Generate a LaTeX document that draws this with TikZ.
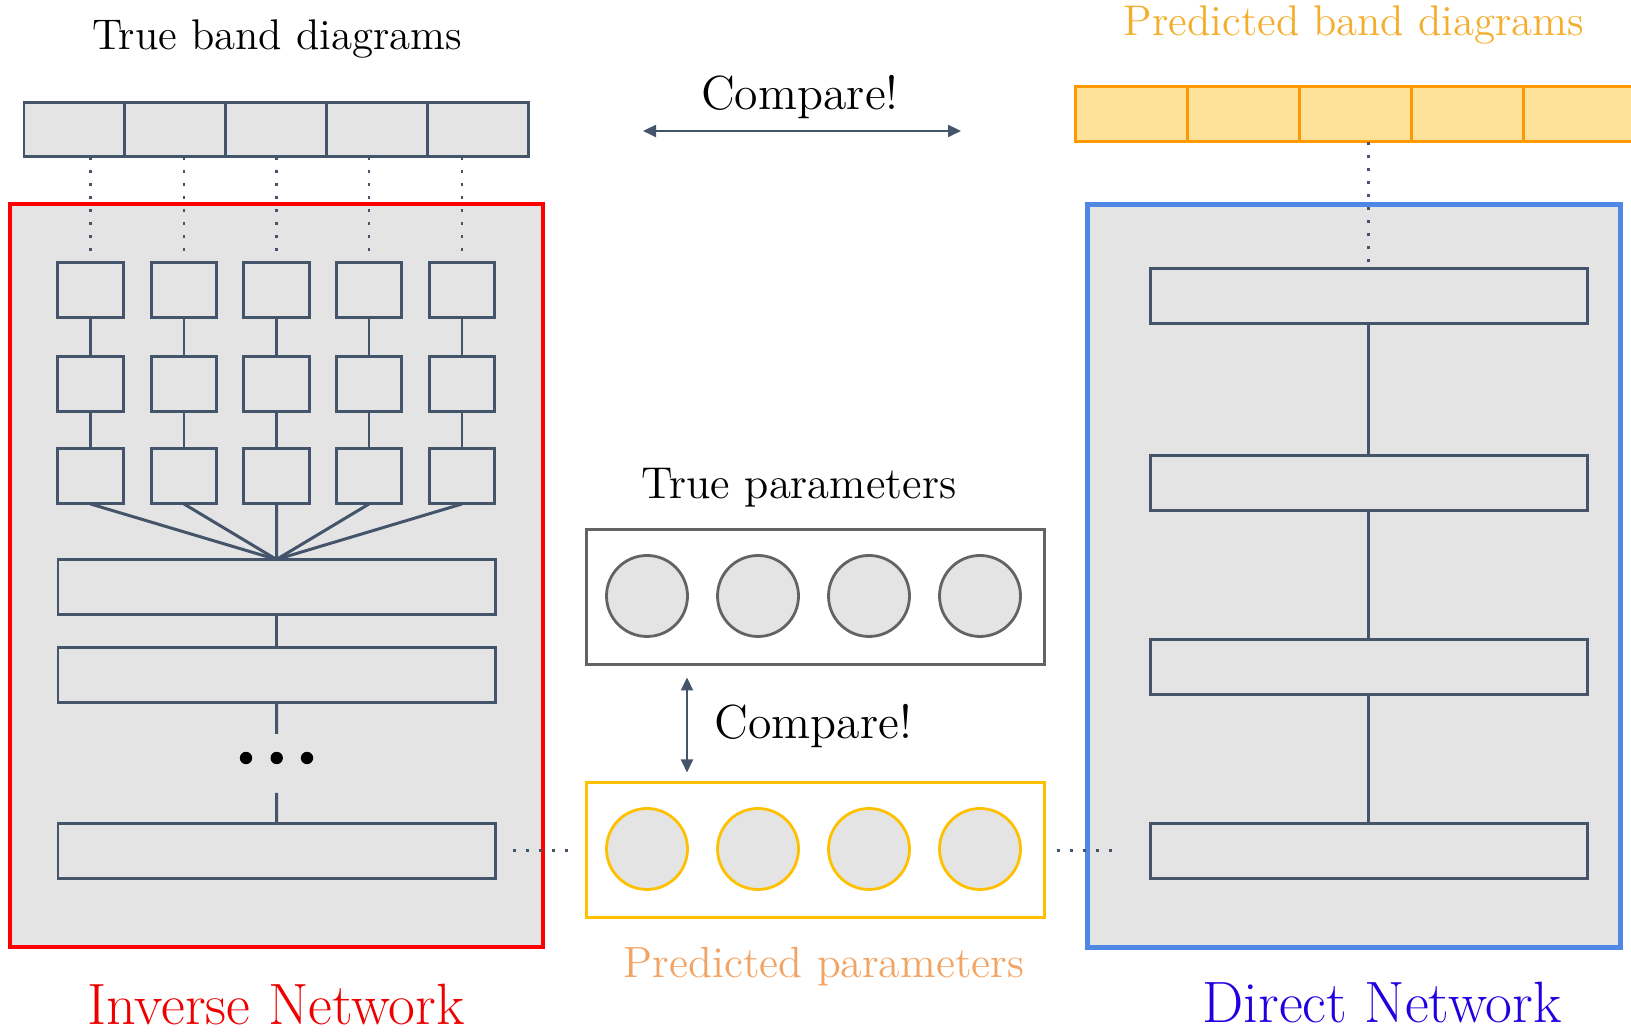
\documentclass[tikz,border=0pt]{standalone}
\usetikzlibrary{arrows.meta}

\definecolor{slate}{HTML}{44546A}
\definecolor{boxgrey}{HTML}{E4E4E4}
\definecolor{frameblue}{HTML}{4F87E5}
\definecolor{bandorange}{HTML}{FF9900}
\definecolor{bandfill}{HTML}{FFE29A}
\definecolor{paramyellow}{HTML}{FFC000}
\definecolor{paramgrey}{HTML}{636363}
\definecolor{predtext}{HTML}{F2A465}
\definecolor{bandtext}{HTML}{F4AE2E}
\definecolor{directblue}{HTML}{2000E0}
\definecolor{inversered}{HTML}{EE0000}

\tikzset{
  layer/.style={draw=slate, fill=boxgrey, line width=0.85pt, inner sep=0pt, outer sep=0pt},
  unit/.style={layer, minimum width=0.655cm, minimum height=0.55cm},
  dense/.style={layer, minimum width=4.37cm, minimum height=0.55cm},
  cell/.style={layer, minimum width=1.008cm, minimum height=0.54cm},
  pcell/.style={draw=bandorange, fill=bandfill, line width=0.85pt, inner sep=0pt, outer sep=0pt, minimum width=1.12cm, minimum height=0.55cm},
  netframe/.style={fill=boxgrey, line width=1.4pt, inner sep=0pt, minimum width=5.33cm, minimum height=7.43cm},
  pbox/.style={draw, line width=0.85pt, inner sep=0pt, minimum width=4.58cm, minimum height=1.35cm},
  param/.style={circle, draw, fill=boxgrey, line width=0.8pt, inner sep=0pt, minimum size=0.81cm},
  lbl/.style={inner sep=0pt, font=\fontsize{12.2}{15}\selectfont},
  cmplbl/.style={inner sep=0pt, font=\fontsize{13.6}{16}\selectfont},
  netlbl/.style={inner sep=0pt, font=\fontsize{16.6}{20}\selectfont},
  link/.style={slate, line width=0.85pt},
  feed/.style={slate, line width=0.85pt, dash pattern=on 0.9pt off 2.8pt},
  cmp/.style={slate, line width=0.6pt, {Triangle[length=0.13cm,width=0.12cm]}-{Triangle[length=0.13cm,width=0.12cm]}}
}

\begin{document}
\begin{tikzpicture}
		\useasboundingbox (0,0) rectangle (16.31,10.34);

		\node[netframe, draw=red]        (inv) at (2.765,4.585) {};
		\node[netframe, draw=frameblue]  (dir) at (13.54,4.58) {};

		\node[cell]  (t1) at (0.744,9.04) {};
		\node[cell]  (t2) at (1.752,9.04) {};
		\node[cell]  (t3) at (2.760,9.04) {};
		\node[cell]  (t4) at (3.768,9.04) {};
		\node[cell]  (t5) at (4.776,9.04) {};
		\node[lbl, anchor=base]  (ttrue) at (2.77,9.84) {True band diagrams};

		\node[unit]  (a1) at (0.905,7.435) {};
		\node[unit]  (a2) at (1.840,7.435) {};
		\node[unit]  (a3) at (2.767,7.435) {};
		\node[unit]  (a4) at (3.690,7.435) {};
		\node[unit]  (a5) at (4.620,7.435) {};
		\node[unit]  (b1) at (0.905,6.495) {};
		\node[unit]  (b2) at (1.840,6.495) {};
		\node[unit]  (b3) at (2.767,6.495) {};
		\node[unit]  (b4) at (3.690,6.495) {};
		\node[unit]  (b5) at (4.620,6.495) {};
		\node[unit]  (c1) at (0.905,5.575) {};
		\node[unit]  (c2) at (1.840,5.575) {};
		\node[unit]  (c3) at (2.767,5.575) {};
		\node[unit]  (c4) at (3.690,5.575) {};
		\node[unit]  (c5) at (4.620,5.575) {};

		\node[dense] (w1) at (2.765,4.47) {};
		\node[dense] (w2) at (2.765,3.59) {};
		\node[dense] (w3) at (2.765,1.83) {};

		\draw[feed] (a1.north |- t1.south) -- (a1.north);
		\draw[feed] (a2.north |- t2.south) -- (a2.north);
		\draw[feed] (a3.north |- t3.south) -- (a3.north);
		\draw[feed] (a4.north |- t4.south) -- (a4.north);
		\draw[feed] (a5.north |- t5.south) -- (a5.north);

		\draw[link] (a1) -- (b1);
		\draw[link] (a2) -- (b2);
		\draw[link] (a3) -- (b3);
		\draw[link] (a4) -- (b4);
		\draw[link] (a5) -- (b5);
		\draw[link] (b1) -- (c1);
		\draw[link] (b2) -- (c2);
		\draw[link] (b3) -- (c3);
		\draw[link] (b4) -- (c4);
		\draw[link] (b5) -- (c5);

		\draw[link] (c1.south) -- (w1.north);
		\draw[link] (c2.south) -- (w1.north);
		\draw[link] (c3.south) -- (w1.north);
		\draw[link] (c4.south) -- (w1.north);
		\draw[link] (c5.south) -- (w1.north);
		\draw[link] (w1) -- (w2);

		\coordinate (g1) at (2.767,3.00);
		\coordinate (g2) at (2.767,2.41);
		\draw[link] (w2) -- (g1);
		\draw[link] (g2) -- (w3);
		\fill (2.46,2.76) circle (0.062);
		\fill (2.767,2.76) circle (0.062);
		\fill (3.07,2.76) circle (0.062);

		\node[pcell] (p1) at (11.31,9.195) {};
		\node[pcell] (p2) at (12.43,9.195) {};
		\node[pcell] (p3) at (13.55,9.195) {};
		\node[pcell] (p4) at (14.67,9.195) {};
		\node[pcell] (p5) at (15.79,9.195) {};
		\node[lbl, text=bandtext, anchor=base]  (tpred) at (13.54,9.98) {Predicted band diagrams};

		\node[dense] (d1) at (13.685,7.375) {};
		\node[dense] (d2) at (13.685,5.51) {};
		\node[dense] (d3) at (13.685,3.67) {};
		\node[dense] (d4) at (13.685,1.83) {};
		\draw[feed] (d1.north |- p3.south) -- (d1.north);
		\draw[link] (d1) -- (d2);
		\draw[link] (d2) -- (d3);
		\draw[link] (d3) -- (d4);

		\coordinate (cl) at (6.43,9.03);
		\coordinate (cr) at (9.61,9.03);
		\draw[cmp] (cl) -- (cr);
		\node[cmplbl, anchor=base]  (cmp1) at (8.0,9.24) {Compare!};

		\node[lbl, font=\fontsize{12.7}{15}\selectfont, anchor=base]  (ptrue) at (7.99,5.35) {True parameters};
		\node[pbox, draw=paramgrey]    (tp) at (8.15,4.365) {};
		\node[param, draw=paramgrey]   (q1) at (6.47,4.38) {};
		\node[param, draw=paramgrey]   (q2) at (7.58,4.38) {};
		\node[param, draw=paramgrey]   (q3) at (8.69,4.38) {};
		\node[param, draw=paramgrey]   (q4) at (9.80,4.38) {};

		\node[pbox, draw=paramyellow]  (pp) at (8.15,1.835) {};
		\node[param, draw=paramyellow] (r1) at (6.47,1.85) {};
		\node[param, draw=paramyellow] (r2) at (7.58,1.85) {};
		\node[param, draw=paramyellow] (r3) at (8.69,1.85) {};
		\node[param, draw=paramyellow] (r4) at (9.80,1.85) {};
		\node[lbl, font=\fontsize{12.45}{15}\selectfont, text=predtext, anchor=base]  (ppred) at (8.24,0.56) {Predicted parameters};

		\draw[cmp, shorten <=0.11cm, shorten >=0.09cm] ([xshift=-1.28cm]tp.south) -- ([xshift=-1.28cm]pp.north);
		\node[cmplbl, anchor=base west]  (cmp2) at (7.14,2.95) {Compare!};

		\draw[feed, shorten <=0.18cm, shorten >=0.16cm] (w3.east) -- (w3.east -| pp.west);
		\draw[feed, shorten <=0.11cm, shorten >=0.35cm] (pp.east) -- (pp.east -| d4.west);

		\node[netlbl, text=inversered, anchor=base]  (invl) at (2.76,0.09) {Inverse Network};
		\node[netlbl, text=directblue, anchor=base]  (dirl) at (13.82,0.11) {Direct Network};

	\end{tikzpicture}
\end{document}
